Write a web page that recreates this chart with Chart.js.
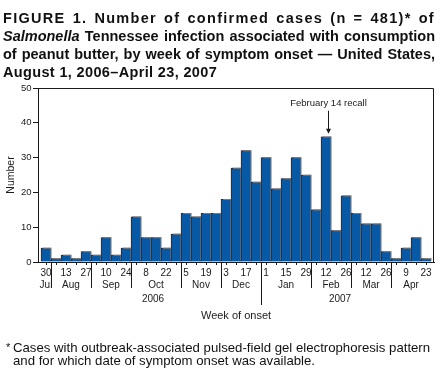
<!DOCTYPE html>
<html>
<head>
<meta charset="utf-8">
<script src="https://cdn.jsdelivr.net/npm/chart.js@4/dist/chart.umd.min.js"></script>
<style>
  html, body { margin: 0; padding: 0; background: #fff; }
  body { width: 448px; height: 378px; position: relative; overflow: hidden; font-family: "Liberation Sans", Arial, sans-serif; color: #111; }
  #c { position: absolute; left: 0; top: 0; }
  .t { position: absolute; left: 3px; width: 432px; font-weight: bold; font-size: 14.5px; white-space: nowrap; line-height: 18px; }
  .j { text-align: justify; text-align-last: justify; }
  .fn { position: absolute; font-size: 13.2px; white-space: nowrap; line-height: 13px; }
</style>
</head>
<body>
<canvas id="c" width="448" height="378"></canvas>
<div class="t j" style="top:9px; letter-spacing:1.3px;">FIGURE 1. Number of confirmed cases (n = 481)* of</div>
<div class="t j" style="top:27px;"><i>Salmonella</i> Tennessee infection associated with consumption</div>
<div class="t j" style="top:45px;">of peanut butter, by week of symptom onset — United States,</div>
<div class="t" style="top:63px; letter-spacing:0.35px;">August 1, 2006–April 23, 2007</div>
<div class="fn" style="left:6px; top:341px; font-size:11px;">*</div>
<div class="fn" style="left:13px; top:341px;">Cases with outbreak-associated pulsed-field gel electrophoresis pattern</div>
<div class="fn" style="left:13px; top:354px;">and for which date of symptom onset was available.</div>
<script>
const dayLabels = ['30','','13','','27','','10','','24','','8','','22','','5','','19','','3','','17','','1','','15','','29','','12','','26','','12','','26','','9','','23'];
const cases = [4,1,2,1,3,2,7,2,4,13,7,7,4,8,14,13,14,14,18,27,32,23,30,21,24,30,25,15,36,9,19,14,11,11,3,1,4,7,1];
const monthNames = ['Jul','Aug','Sep','Oct','Nov','Dec','Jan','Feb','Mar','Apr'];
const monthStart = [0,1,5,9,14,18,22,27,31,35];
const yearNames = ['2006','2007'];
const yearStart = [0,22];
const yearLabelPos = [10.7, 29.4];
const yTicks = [0,10,20,30,40,50];
const recallIndex = 28;
const recallText = 'February 14 recall';

const FONT = '"Liberation Sans", Arial, sans-serif';
const INK = '#1a1a1a';

const extras = {
  id: 'extras',
  beforeDatasetsDraw(chart) {
    const ctx = chart.ctx;
    ctx.save();
    ctx.shadowColor = 'rgba(125,125,125,0.95)';
    ctx.shadowOffsetX = 1.5;
    ctx.shadowOffsetY = -1.5;
    ctx.shadowBlur = 0;
  },
  afterDatasetsDraw(chart) {
    const ctx = chart.ctx;
    ctx.restore();
    const a = chart.chartArea;
    const xs = chart.scales.x, ys = chart.scales.y;
    ctx.save();
    ctx.strokeStyle = INK;
    ctx.lineWidth = 1;
    ctx.beginPath();
    ctx.moveTo(Math.round(a.left) + 0.5, Math.round(a.top) + 0.5);
    ctx.lineTo(Math.round(a.right) - 0.5, Math.round(a.top) + 0.5);
    ctx.lineTo(Math.round(a.right) - 0.5, Math.round(a.bottom));
    ctx.stroke();

    const base = Math.round(a.bottom);
    ctx.fillStyle = INK;
    ctx.font = '10px ' + FONT;
    ctx.textAlign = 'center';
    ctx.textBaseline = 'middle';
    for (let m = 0; m < monthNames.length; m++) {
      const s = monthStart[m];
      const e = (m + 1 < monthStart.length ? monthStart[m + 1] : cases.length) - 1;
      ctx.fillText(monthNames[m], xs.getPixelForValue((s + e) / 2), base + 23);
      if (s > 0) {
        const px = Math.round(xs.getPixelForValue(s - 0.5)) + 0.5;
        const isYear = yearStart.indexOf(s) >= 0;
        ctx.beginPath();
        ctx.moveTo(px, base);
        ctx.lineTo(px, base + (isYear ? 43 : 26));
        ctx.stroke();
      }
    }
    for (let k = 0; k < yearNames.length; k++) {
      ctx.fillText(yearNames[k], xs.getPixelForValue(yearLabelPos[k]), base + 37.5);
    }

    const ax = Math.round(xs.getPixelForValue(recallIndex + 0.2)) + 0.5;
    const top = ys.getPixelForValue(cases[recallIndex]);
    const tip = top - 3;
    ctx.font = '9.5px ' + FONT;
    ctx.fillText(recallText, ax, tip - 30);
    ctx.beginPath();
    ctx.moveTo(ax, tip - 23);
    ctx.lineTo(ax, tip - 2);
    ctx.stroke();
    ctx.beginPath();
    ctx.moveTo(ax - 2.5, tip - 5);
    ctx.lineTo(ax + 2.5, tip - 5);
    ctx.lineTo(ax, tip);
    ctx.closePath();
    ctx.fill();
    ctx.restore();
  }
};

new Chart(document.getElementById('c'), {
  type: 'bar',
  data: {
    datasets: [{
      data: cases.map((v, i) => ({ x: i, y: v })),
      backgroundColor: '#0759a6',
      borderColor: '#1c2a48',
      borderWidth: 1,
      barPercentage: 1,
      categoryPercentage: 1
    }]
  },
  options: {
    responsive: false,
    devicePixelRatio: 1,
    animation: false,
    layout: { padding: { left: 0, top: 88, right: 14, bottom: 0 } },
    plugins: { legend: { display: false }, tooltip: { enabled: false } },
    scales: {
      x: {
        type: 'linear',
        offset: false,
        min: -0.8,
        max: cases.length - 0.2,
        afterBuildTicks(s) { s.ticks = dayLabels.map((_, i) => ({ value: i })); },
        afterFit(s) { s.height = 116; },
        grid: { offset: false, drawOnChartArea: false, drawTicks: true, tickLength: 3, color: INK },
        border: { display: true, color: INK },
        ticks: {
          autoSkip: false, maxRotation: 0, minRotation: 0, padding: 2,
          color: INK, font: { family: FONT, size: 10 },
          callback: (v) => dayLabels[Math.round(v)]
        },
        title: {
          display: true, text: 'Week of onset', color: INK,
          font: { family: FONT, size: 11 }, padding: { top: 0, bottom: 55 }
        }
      },
      y: {
        min: 0, max: 50,
        afterBuildTicks(s) { s.ticks = yTicks.map(v => ({ value: v })); },
        afterFit(s) { s.width = 38; },
        grid: { drawOnChartArea: false, drawTicks: true, tickLength: 5, color: INK },
        border: { display: true, color: INK },
        ticks: { padding: 1.5, color: INK, font: { family: FONT, size: 9.5 } },
        title: {
          display: true, text: 'Number', color: INK,
          font: { family: FONT, size: 10.5 }, padding: { top: 5, bottom: 0 }
        }
      }
    }
  },
  plugins: [extras]
});
</script>
</body>
</html>
